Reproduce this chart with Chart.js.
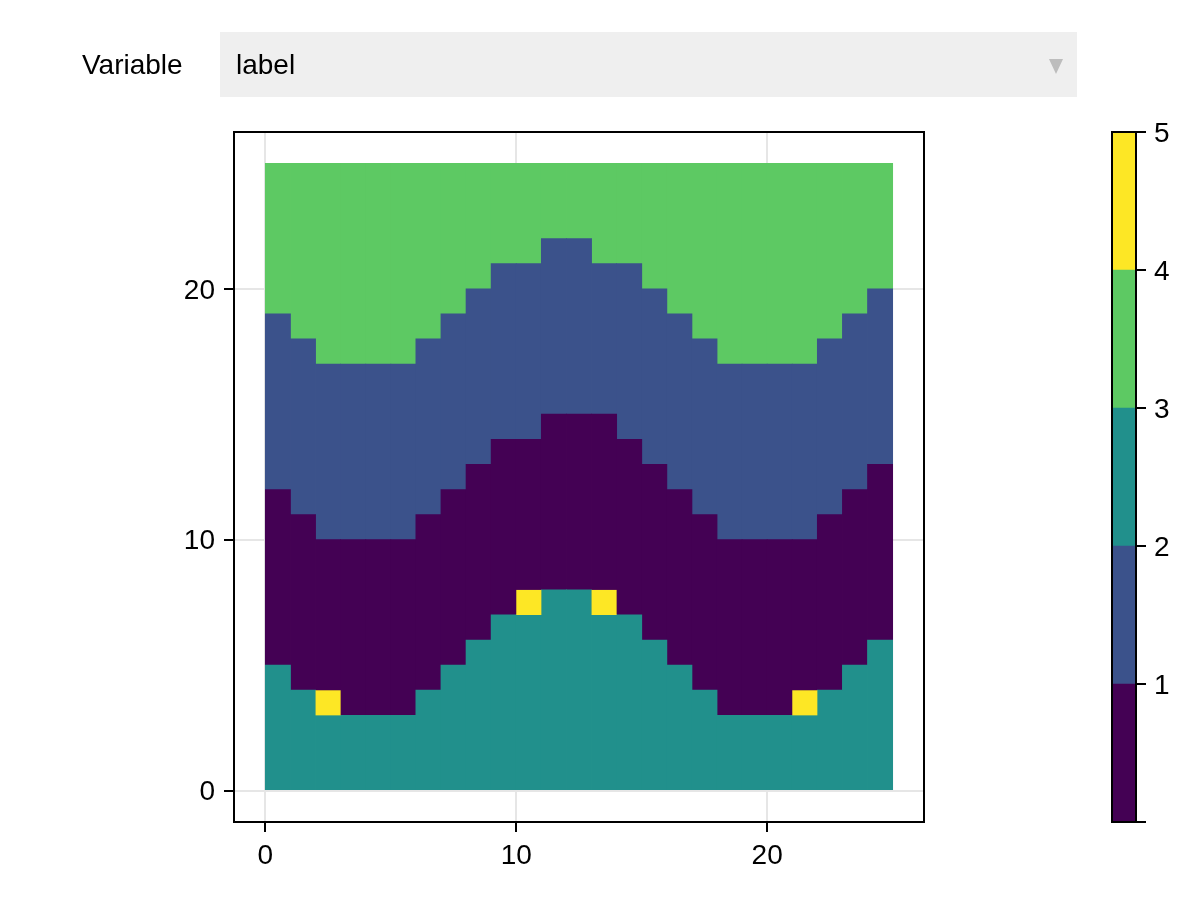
<!DOCTYPE html>
<html>
<head>
<meta charset="utf-8">
<title>label heatmap</title>
<script src="https://cdn.jsdelivr.net/npm/chart.js@4"></script>
<style>
    html, body { margin: 0; padding: 0; background: #fff; }
    body { width: 1200px; height: 900px; position: relative; overflow: hidden; font-family: "Liberation Sans", sans-serif; font-size: 28px; color: #000; }
    canvas { position: absolute; top: 0; left: 0; }
    #varLabel { position: absolute; left: 82px; top: 32px; line-height: 65px; }
    #menu { position: absolute; left: 220px; top: 32px; width: 857px; height: 65px; background: #efefef; line-height: 65px; }
    #menuText { position: absolute; left: 16px; top: 0; }
    #menuArrow { position: absolute; left: 829px; top: 27px; width: 0; height: 0; border-left: 7.5px solid transparent; border-right: 7.5px solid transparent; border-top: 15px solid #bdbdbd; }
</style>
</head>
<body>
<canvas id="heatChart" width="1200" height="900"></canvas>
<canvas id="barChart" width="1200" height="900"></canvas>
<div id="varLabel">Variable</div>
<div id="menu"><span id="menuText">label</span><div id="menuArrow"></div></div>
<script>
// 컬럼별 경계값 (column 0..24)
const columns = [0, 1, 2, 3, 4, 5, 6, 7, 8, 9, 10, 11, 12, 13, 14, 15, 16, 17, 18, 19, 20, 21, 22, 23, 24];
const tealTop =   [5, 4, 3, 3, 3, 3, 4, 5, 6, 7, 7, 8, 8, 7, 7, 6, 5, 4, 3, 3, 3, 3, 4, 5, 6];
const purpleTop = [12, 11, 10, 10, 10, 10, 11, 12, 13, 14, 14, 15, 15, 15, 14, 13, 12, 11, 10, 10, 10, 10, 11, 12, 13];
const blueTop =   [19, 18, 17, 17, 17, 17, 18, 19, 20, 21, 21, 22, 22, 21, 21, 20, 19, 18, 17, 17, 17, 17, 18, 19, 20];
const greenTop = 25;
// yellow single cells (column, row)
const yellowColumns = [2, 10, 13, 21];
const yellowRows = [3, 7, 7, 3];

const xTickValues = [0, 10, 20];
const yTickValues = [0, 10, 20];
const barTickValues = [0, 1, 2, 3, 4, 5];
const barTickLabels = ['', '1', '2', '3', '4', '5'];
const bandColors = ['#440154', '#3b528b', '#21908c', '#5dc963', '#fde725'];

const tickFont = { family: 'Liberation Sans', size: 28 };

// 테두리 그리는 플러그인
const framePlugin = {
    id: 'frame',
    afterDraw(chart) {
        const a = chart.chartArea;
        const ctx = chart.ctx;
        ctx.save();
        ctx.strokeStyle = '#000';
        ctx.lineWidth = 2;
        ctx.strokeRect(a.left, a.top, a.right - a.left, a.bottom - a.top);
        ctx.restore();
    }
};

// y축 글자가 살짝 위로 떠서 2px 내려줌
const labelNudgePlugin = {
    id: 'labelNudge',
    beforeDraw(chart) {
        chart.scales.y.getLabelItems(chart.chartArea).forEach(item => { item.textOffset += 2; });
    }
};

function band(lows, highs) {
    return columns.map((c, i) => ({ x: c + 0.5, y: [lows[i], highs[i]] }));
}

const zeros = columns.map(() => 0);
const tops = columns.map(() => greenTop);

new Chart(document.getElementById('heatChart'), {
    type: 'bar',
    data: {
        datasets: [
            // 앞에 있는 데이터셋이 위에 그려짐, so yellow goes first
            { data: yellowColumns.map((c, i) => ({ x: c + 0.5, y: [yellowRows[i], yellowRows[i] + 1] })), backgroundColor: bandColors[4], inflateAmount: 0 },
            { data: band(zeros, tealTop), backgroundColor: bandColors[2] },
            { data: band(tealTop, purpleTop), backgroundColor: bandColors[0] },
            { data: band(purpleTop, blueTop), backgroundColor: bandColors[1] },
            { data: band(blueTop, tops), backgroundColor: bandColors[3] }
        ]
    },
    options: {
        responsive: false,
        animation: false,
        devicePixelRatio: 1,
        layout: { padding: { left: 174, top: 132, right: 276, bottom: 0 } },
        plugins: { legend: { display: false }, tooltip: { enabled: false } },
        datasets: { bar: { grouped: false, barPercentage: 1, categoryPercentage: 1, inflateAmount: 0.4 } },
        scales: {
            x: {
                type: 'linear',
                offset: false,
                min: -1.25,
                max: 26.25,
                afterBuildTicks: s => { s.ticks = xTickValues.map(v => ({ value: v })); },
                afterFit: s => { s.height = 78; },
                grid: { offset: false, color: '#e6e6e6', lineWidth: 2, tickColor: '#000', tickWidth: 2, tickLength: 10 },
                border: { color: '#000', width: 2 },
                ticks: { color: '#000', font: tickFont, padding: 7, maxRotation: 0 }
            },
            y: {
                type: 'linear',
                min: -1.25,
                max: 26.25,
                afterBuildTicks: s => { s.ticks = yTickValues.map(v => ({ value: v })); },
                afterFit: s => { s.width = 60; },
                grid: { color: '#e6e6e6', lineWidth: 2, tickColor: '#000', tickWidth: 2, tickLength: 10 },
                border: { color: '#000', width: 2 },
                ticks: { color: '#000', font: tickFont, padding: 9 }
            }
        }
    },
    plugins: [framePlugin, labelNudgePlugin]
});

// 오른쪽 컬러바
new Chart(document.getElementById('barChart'), {
    type: 'bar',
    data: {
        labels: ['bar'],
        datasets: bandColors.map((color, i) => ({
            data: [[barTickValues[i], barTickValues[i + 1]]],
            backgroundColor: color
        }))
    },
    options: {
        responsive: false,
        animation: false,
        devicePixelRatio: 1,
        layout: { padding: { left: 1112, top: 132, right: 0, bottom: 78 } },
        plugins: { legend: { display: false }, tooltip: { enabled: false } },
        datasets: { bar: { grouped: false, barPercentage: 1, categoryPercentage: 1 } },
        scales: {
            x: { display: false },
            y: {
                position: 'right',
                min: 0,
                max: 5,
                afterBuildTicks: s => { s.ticks = barTickValues.map(v => ({ value: v })); },
                afterFit: s => { s.width = 64; },
                grid: { drawOnChartArea: false, tickColor: '#000', tickWidth: 2, tickLength: 10, lineWidth: 2 },
                border: { color: '#000', width: 2 },
                ticks: { color: '#000', font: tickFont, padding: 8, callback: (v) => barTickLabels[barTickValues.indexOf(v)] }
            }
        }
    },
    plugins: [framePlugin, labelNudgePlugin]
});
</script>
</body>
</html>
